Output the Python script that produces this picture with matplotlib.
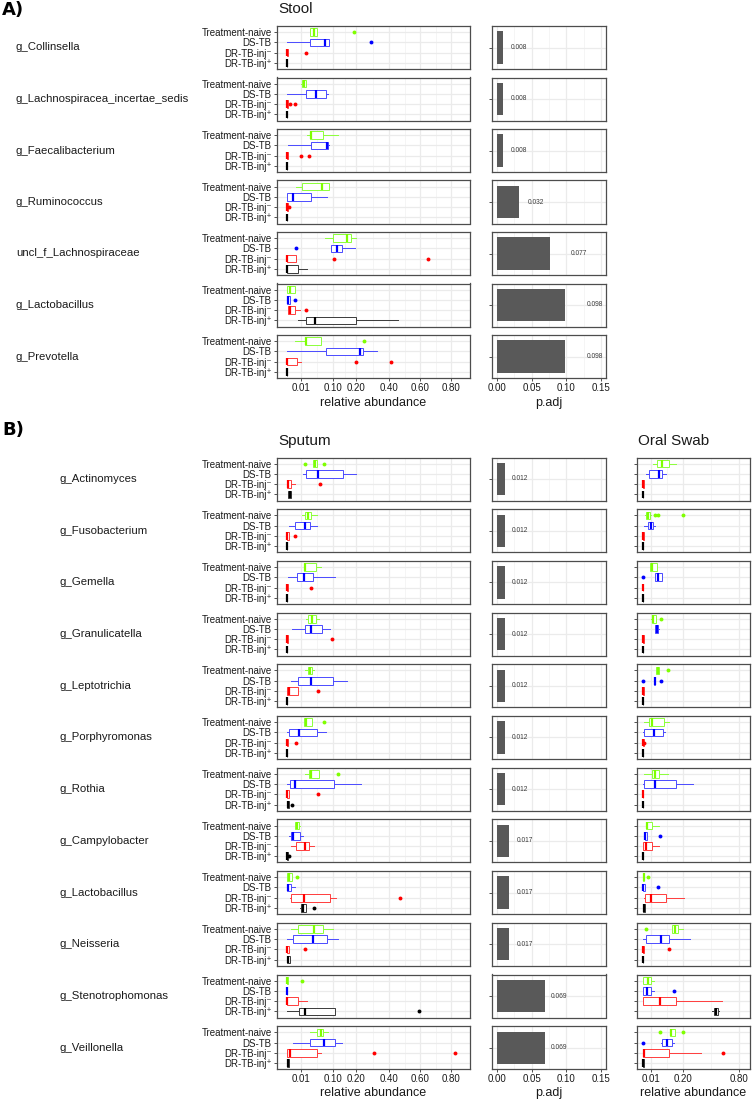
import numpy as np
import matplotlib
matplotlib.use("Agg")
import matplotlib.pyplot as plt
from matplotlib.ticker import FixedLocator, NullFormatter

plt.rcParams['font.family'] = ['Liberation Sans', 'DejaVu Sans']

W, H = 753, 1102

# ---------------- data ----------------
groups = ["Treatment-naive", "DS-TB", "DR-TB-inj\u207b", "DR-TB-inj\u207a"]
group_colors = ["#7FFF00", "#0000FF", "#FF0000", "#000000"]
edge_colors = ["#8CFF3A", "#4B4BFF", "#FF3C3C", "#3A3A3A"]

# transform used by the original x axis (value -> relative position)
scale_values = [-0.05, 0.0, 0.01, 0.1, 0.2, 0.4, 0.6, 0.8, 1.0]
scale_pos = [-60, 10, 24, 56, 79, 112, 143, 174, 205]

abund_ticks = [0.01, 0.10, 0.20, 0.40, 0.60, 0.80]
oral_ticks = [0.01, 0.20, 0.80]
padj_ticks = [0.00, 0.05, 0.10, 0.15]

# five-number summaries (whislo, q1, median, q3, whishi) per group + outliers
stool_genera = ["g_Collinsella", "g_Lachnospiracea_incertae_sedis", "g_Faecalibacterium",
                "g_Ruminococcus", "uncl_f_Lachnospiraceae", "g_Lactobacillus", "g_Prevotella"]
stool_padj = [0.008, 0.008, 0.008, 0.032, 0.077, 0.098, 0.098]
stool_padj_label_x = [0.032, 0.032, 0.032, 0.056, 0.119, 0.141, 0.141]

st_collinsella = [(0.036, 0.036, 0.047, 0.056, 0.056), (0.0002, 0.036, 0.078, 0.090, 0.090),
                  (0, 0, 0.0003, 0.0008, 0.0008), (0, 0, 0, 0, 0)]
st_collinsella_out = [[0.193], [0.293], [0.023], []]
st_lachno = [(0.011, 0.012, 0.0185, 0.024, 0.025), (0.0003, 0.023, 0.051, 0.080, 0.085),
             (0, 0, 0, 0.0005, 0.0005), (0, 0, 0, 0, 0)]
st_lachno_out = [[], [], [0.002, 0.006], []]
st_faecali = [(0.026, 0.036, 0.037, 0.0727, 0.123), (0.0005, 0.037, 0.084, 0.086, 0.089),
              (0, 0, 0, 0.0004, 0.0004), (0, 0, 0, 0, 0)]
st_faecali_out = [[], [], [0.010, 0.0325], []]
st_rumino = [(0.0061, 0.012, 0.069, 0.089, 0.089), (0, 0, 0.004, 0.037, 0.083),
             (0, 0, 0, 0.0008, 0.0008), (0, 0, 0, 0, 0)]
st_rumino_out = [[], [], [0.0015], []]
st_lachnoceae = [(0.078, 0.099, 0.162, 0.177, 0.2), (0.094, 0.094, 0.116, 0.138, 0.194),
                 (0, 0, 0, 0.0067, 0.0067), (0, 0, 0, 0.0075, 0.026)]
st_lachnoceae_out = [[], [0.0065], [0.106, 0.649], []]
st_lacto = [(0, 0, 0.0018, 0.006, 0.006), (0, 0, 0.0008, 0.0018, 0.0018),
            (0.0008, 0.0008, 0.002, 0.006, 0.0092), (0.0079, 0.024, 0.048, 0.202, 0.457)]
st_lacto_out = [[], [0.0056], [0.023], []]
st_prevotella = [(0.0054, 0.0204, 0.025, 0.066, 0.066), (0, 0.080, 0.224, 0.244, 0.329),
                 (0, 0, 0.0003, 0.0072, 0.010), (0, 0, 0, 0, 0)]
st_prevotella_out = [[0.249], [], [0.2, 0.415], []]

b_genera = ["g_Actinomyces", "g_Fusobacterium", "g_Gemella", "g_Granulicatella", "g_Leptotrichia",
            "g_Porphyromonas", "g_Rothia", "g_Campylobacter", "g_Lactobacillus", "g_Neisseria",
            "g_Stenotrophomonas", "g_Veillonella"]
b_padj = [0.012, 0.012, 0.012, 0.012, 0.012, 0.012, 0.012, 0.017, 0.017, 0.017, 0.069, 0.069]
b_padj_label_x = [0.033, 0.033, 0.033, 0.033, 0.033, 0.033, 0.033, 0.040, 0.040, 0.040, 0.090, 0.090]

sp_actino = [(0.043, 0.043, 0.048, 0.054, 0.054), (0.0148, 0.024, 0.057, 0.142, 0.199),
             (0, 0, 0.0008, 0.003, 0.006), (0.0005, 0.0005, 0.002, 0.003, 0.003)]
sp_actino_out = [[0.021, 0.076], [], [0.064], []]
sp_fuso = [(0.0137, 0.022, 0.029, 0.037, 0.054), (0.0013, 0.006, 0.022, 0.035, 0.054),
           (0, 0, 0.0003, 0.0013, 0.0013), (0, 0, 0, 0, 0)]
sp_fuso_out = [[], [], [0.006], []]
sp_gemella = [(0.0195, 0.0195, 0.021, 0.052, 0.065), (0.0008, 0.0072, 0.0185, 0.045, 0.109),
              (0, 0, 0, 0.0005, 0.0005), (0, 0, 0, 0, 0)]
sp_gemella_out = [[], [], [0.038], []]
sp_granuli = [(0.025, 0.030, 0.041, 0.052, 0.06), (0.0038, 0.021, 0.038, 0.069, 0.091),
              (0, 0, 0, 0.001, 0.001), (0, 0, 0, 0, 0)]
sp_granuli_out = [[], [], [0.097], []]
sp_lepto = [(0.021, 0.029, 0.035, 0.040, 0.0466), (0.003, 0.008, 0.038, 0.099, 0.162),
            (0, 0, 0.0016, 0.0082, 0.0082), (0, 0, 0, 0, 0)]
sp_lepto_out = [[], [], [0.058], []]
sp_porphy = [(0.0195, 0.0195, 0.0245, 0.040, 0.040), (0, 0.0015, 0.0087, 0.054, 0.081),
             (0, 0, 0, 0.001, 0.001), (0, 0, 0, 0, 0)]
sp_porphy_out = [[0.0738], [], [0.0067], []]
sp_rothia = [(0.021, 0.033, 0.037, 0.062, 0.062), (0, 0.002, 0.006, 0.106, 0.228),
             (0, 0, 0, 0.0012, 0.0012), (0, 0, 0.0008, 0.0015, 0.0015)]
sp_rothia_out = [[0.121], [], [0.059], [0.0036]]
sp_campy = [(0.0054, 0.006, 0.0072, 0.0087, 0.0095), (0.0015, 0.0025, 0.004, 0.0095, 0.0165),
            (0.003, 0.0062, 0.021, 0.033, 0.0457), (0, 0, 0.0003, 0.0008, 0.0008)]
sp_campy_out = [[], [], [], [0.0015]]
sp_lacto = [(0, 0, 0.0015, 0.0033, 0.0033), (0, 0, 0.0008, 0.003, 0.0056),
            (0.0023, 0.003, 0.0175, 0.092, 0.112), (0.009, 0.010, 0.0148, 0.0232, 0.0232)]
sp_lacto_out = [[0.0072], [], [0.47], [0.0457]]
sp_neiss = [(0.0025, 0.008, 0.046, 0.0727, 0.099), (0, 0.0044, 0.043, 0.083, 0.121),
            (0, 0, 0, 0.0015, 0.0015), (0, 0, 0.0008, 0.0023, 0.0023)]
sp_neiss_out = [[], [], [0.021], []]
sp_steno = [(0, 0, 0, 0.0005, 0.0005), (0, 0, 0, 0.0002, 0.0002),
            (0, 0, 0, 0.0082, 0.026), (0, 0.0087, 0.021, 0.11, 0.11)]
sp_steno_out = [[0.0137], [], [], [0.595]]
sp_veill = [(0.036, 0.056, 0.066, 0.072, 0.086), (0.0044, 0.036, 0.076, 0.11, 0.138),
            (0, 0.0003, 0.0023, 0.056, 0.066), (0, 0, 0.0008, 0.0015, 0.0015)]
sp_veill_out = [[], [], [0.309, 0.826], []]

or_actino = [(0.0195, 0.038, 0.063, 0.096, 0.146), (0.004, 0.0073, 0.05, 0.063, 0.08),
             (0, 0, 0, 0.001, 0.002), (0, 0, 0, 0, 0)]
or_actino_out = [[], [], [], []]
or_fuso = [(0.003, 0.0034, 0.006, 0.0086, 0.0095), (0.002, 0.006, 0.01, 0.02, 0.03),
           (0, 0, 0, 0.001, 0.001), (0, 0, 0, 0, 0)]
or_fuso_out = [[0.03, 0.045, 0.2], [], [], []]
or_gemella = [(0.0086, 0.0086, 0.015, 0.038, 0.038), (0.029, 0.029, 0.045, 0.063, 0.063),
              (0, 0, 0, 0.0005, 0.0005), (0, 0, 0, 0, 0)]
or_gemella_out = [[], [0], [], []]
or_granuli = [(0.012, 0.014, 0.02, 0.035, 0.035), (0.029, 0.03, 0.04, 0.045, 0.05),
              (0, 0, 0, 0.001, 0.001), (0, 0, 0, 0, 0)]
or_granuli_out = [[0.06], [], [], []]
or_lepto = [(0.034, 0.034, 0.042, 0.050, 0.050), (0.026, 0.026, 0.029, 0.031, 0.031),
            (0, 0, 0, 0.0008, 0.0008), (0, 0, 0, 0, 0)]
or_lepto_out = [[0.093], [0, 0.058], [], []]
or_porphy = [(0.0008, 0.0077, 0.016, 0.0737, 0.096), (0, 0.0017, 0.024, 0.069, 0.075),
             (0, 0, 0, 0.0015, 0.0015), (0, 0, 0, 0, 0)]
or_porphy_out = [[], [], [0.002], []]
or_rothia = [(0.002, 0.013, 0.0305, 0.0495, 0.090), (0, 0.002, 0.029, 0.146, 0.304),
             (0, 0, 0, 0.0004, 0.0004), (0, 0, 0, 0, 0)]
or_rothia_out = [[], [], [], []]
or_campy = [(0.0034, 0.004, 0.0055, 0.0145, 0.0466), (0.0025, 0.0025, 0.003, 0.005, 0.005),
            (0, 0, 0.004, 0.016, 0.0466), (0, 0, 0, 0, 0)]
or_campy_out = [[], [0.0544], [], []]
or_lacto = [(0, 0, 0.0008, 0.002, 0.002), (0, 0, 0.0005, 0.0025, 0.0025),
            (0.0008, 0.0025, 0.0098, 0.080, 0.211), (0.0005, 0.0005, 0.0015, 0.0025, 0.0025)]
or_lacto_out = [[0.006], [0.045], [], []]
or_neiss = [(0.116, 0.116, 0.139, 0.159, 0.2), (0, 0.004, 0.059, 0.094, 0.267),
            (0, 0, 0, 0.001, 0.001), (0, 0, 0, 0, 0)]
or_neiss_out = [[0.0038], [], [0.094], []]
or_steno = [(0, 0, 0.006, 0.0095, 0.0255), (0, 0, 0.005, 0.0098, 0.0255),
            (0, 0, 0.053, 0.1445, 0.617), (0.50, 0.523, 0.545, 0.567, 0.58)]
or_steno_out = [[], [0.131], [], []]
or_veill = [(0.099, 0.099, 0.106, 0.139, 0.139), (0.058, 0.0613, 0.085, 0.118, 0.131),
            (0, 0, 0.0008, 0.094, 0.38), (0, 0, 0, 0.0015, 0.0015)]
or_veill_out = [[0.051, 0.2], [0], [0.622], []]

stool_stats = [st_collinsella, st_lachno, st_faecali, st_rumino, st_lachnoceae, st_lacto, st_prevotella]
stool_out = [st_collinsella_out, st_lachno_out, st_faecali_out, st_rumino_out, st_lachnoceae_out,
             st_lacto_out, st_prevotella_out]
sputum_stats = [sp_actino, sp_fuso, sp_gemella, sp_granuli, sp_lepto, sp_porphy, sp_rothia,
                sp_campy, sp_lacto, sp_neiss, sp_steno, sp_veill]
sputum_out = [sp_actino_out, sp_fuso_out, sp_gemella_out, sp_granuli_out, sp_lepto_out, sp_porphy_out,
              sp_rothia_out, sp_campy_out, sp_lacto_out, sp_neiss_out, sp_steno_out, sp_veill_out]
oral_stats = [or_actino, or_fuso, or_gemella, or_granuli, or_lepto, or_porphy, or_rothia,
              or_campy, or_lacto, or_neiss, or_steno, or_veill]
oral_out = [or_actino_out, or_fuso_out, or_gemella_out, or_granuli_out, or_lepto_out, or_porphy_out,
            or_rothia_out, or_campy_out, or_lacto_out, or_neiss_out, or_steno_out, or_veill_out]


# ---------------- helpers ----------------
def fwd(v):
    return np.interp(v, scale_values, scale_pos)


def inv(p):
    return np.interp(p, scale_pos, scale_values)


fig = plt.figure(figsize=(W / 100, H / 100), dpi=100)
fig.patch.set_facecolor("white")

TXT = "#1a1a1a"
BORDER = "#4d4d4d"


def ax_px(l, t, w, h):
    return fig.add_axes([l / W, 1 - (t + h) / H, w / W, h / H])


def style(ax):
    ax.set_axisbelow(True)
    for s in ax.spines.values():
        s.set_color(BORDER)
        s.set_linewidth(0.9)
    ax.tick_params(axis="both", which="major", length=2.3, width=0.6, color="#333333",
                   labelsize=7, labelcolor=TXT, pad=1.5)
    ax.tick_params(which="minor", length=0)
    ax.grid(which="major", color="#EBEBEB", lw=0.9)
    ax.grid(which="minor", axis="x", color="#F2F2F2", lw=0.5)


def box_panel(ax, stats, outs, ylabels, bottom, ticks):
    ax.set_xscale("function", functions=(fwd, inv))
    for gi in range(4):
        wl, q1, med, q3, wh = stats[gi]
        st = dict(whislo=wl, q1=q1, med=med, q3=q3, whishi=wh, fliers=np.array(outs[gi], dtype=float))
        c = group_colors[gi]
        ec = edge_colors[gi]
        kw = dict(positions=[4 - gi], widths=0.75, showcaps=False, patch_artist=True,
                  manage_ticks=False)
        try:
            res = ax.bxp([st], orientation="horizontal", **kw)
        except TypeError:
            res = ax.bxp([st], vert=False, **kw)
        for b in res["boxes"]:
            b.set_facecolor("white")
            b.set_edgecolor(ec)
            b.set_linewidth(0.7)
        for w_ in res["whiskers"]:
            w_.set_color(ec)
            w_.set_linewidth(0.7)
        for m in res["medians"]:
            m.set_color(c)
            m.set_linewidth(1.6)
            m.set_solid_capstyle("butt")
        for f in res["fliers"]:
            f.set_marker("o")
            f.set_markerfacecolor(c)
            f.set_markeredgecolor("none")
            f.set_markersize(2.8)
    ax.set_xlim(inv(0), inv(193))
    ax.set_ylim(0.4, 4.6)
    ax.set_yticks([4, 3, 2, 1])
    if ylabels:
        ax.set_yticklabels(groups)
    else:
        ax.set_yticklabels([])
    ax.set_xticks(ticks)
    mids = [float(inv((fwd(a) + fwd(b)) / 2)) for a, b in zip(ticks[:-1], ticks[1:])]
    ax.xaxis.set_minor_locator(FixedLocator(mids))
    ax.xaxis.set_minor_formatter(NullFormatter())
    style(ax)
    if bottom:
        ax.set_xticklabels([f"{t:.2f}" for t in ticks])
    else:
        ax.tick_params(axis="x", which="both", length=0, labelbottom=False)


def bar_panel(ax, p, lx, bottom):
    ax.barh([1], [p], height=0.9, color="#595959")
    ax.text(lx, 1, f"{p:.3f}", fontsize=4.8, va="center", ha="center", color="#3a3a3a")
    ax.set_xlim(-0.0075, 0.1575)
    ax.set_ylim(0.4, 1.6)
    ax.set_yticks([1])
    ax.set_yticklabels([])
    ax.set_xticks(padj_ticks)
    ax.xaxis.set_minor_locator(FixedLocator([0.025, 0.075, 0.125]))
    style(ax)
    if bottom:
        ax.set_xticklabels([f"{t:.2f}" for t in padj_ticks])
    else:
        ax.tick_params(axis="x", which="both", length=0, labelbottom=False)


# ---------------- section A ----------------
fig.text(2 / W, 1 - 10 / H, "A)", fontsize=13, fontweight="bold", va="center", ha="left",
         family="DejaVu Sans")
fig.text(278 / W, 1 - 9 / H, "Stool", fontsize=11, va="center", ha="left", color=TXT)
nA = len(stool_genera)
for i in range(nA):
    top = 26 + i * 51.5
    fig.text(16 / W, 1 - (top + 21.5) / H, stool_genera[i], fontsize=8.2, va="center",
             ha="left", color=TXT)
    axb = ax_px(277, top, 193, 43)
    box_panel(axb, stool_stats[i], stool_out[i], True, i == nA - 1, abund_ticks)
    axp = ax_px(492, top, 114, 43)
    bar_panel(axp, stool_padj[i], stool_padj_label_x[i], i == nA - 1)
fig.text(373.5 / W, 1 - 403 / H, "relative abundance", fontsize=9, ha="center", va="center", color=TXT)
fig.text(549 / W, 1 - 403 / H, "p.adj", fontsize=9, ha="center", va="center", color=TXT)

# ---------------- section B ----------------
fig.text(2 / W, 1 - 430 / H, "B)", fontsize=13, fontweight="bold", va="center", ha="left",
         family="DejaVu Sans")
fig.text(278 / W, 1 - 441 / H, "Sputum", fontsize=11, va="center", ha="left", color=TXT)
fig.text(638 / W, 1 - 441 / H, "Oral Swab", fontsize=11, va="center", ha="left", color=TXT)
nB = len(b_genera)
for i in range(nB):
    top = 457.5 + i * 51.7
    fig.text(60 / W, 1 - (top + 21.5) / H, b_genera[i], fontsize=8.2, va="center",
             ha="left", color=TXT)
    axs = ax_px(277, top, 193, 43)
    box_panel(axs, sputum_stats[i], sputum_out[i], True, i == nB - 1, abund_ticks)
    axp = ax_px(492, top, 114, 43)
    bar_panel(axp, b_padj[i], b_padj_label_x[i], i == nB - 1)
    axo = ax_px(637, top, 113, 43)
    box_panel(axo, oral_stats[i], oral_out[i], False, i == nB - 1, oral_ticks)
fig.text(373.5 / W, 1 - 1093 / H, "relative abundance", fontsize=9, ha="center", va="center", color=TXT)
fig.text(549 / W, 1 - 1093 / H, "p.adj", fontsize=9, ha="center", va="center", color=TXT)
fig.text(693.5 / W, 1 - 1093 / H, "relative abundance", fontsize=9, ha="center", va="center", color=TXT)

fig.savefig("out.png", dpi=100)
